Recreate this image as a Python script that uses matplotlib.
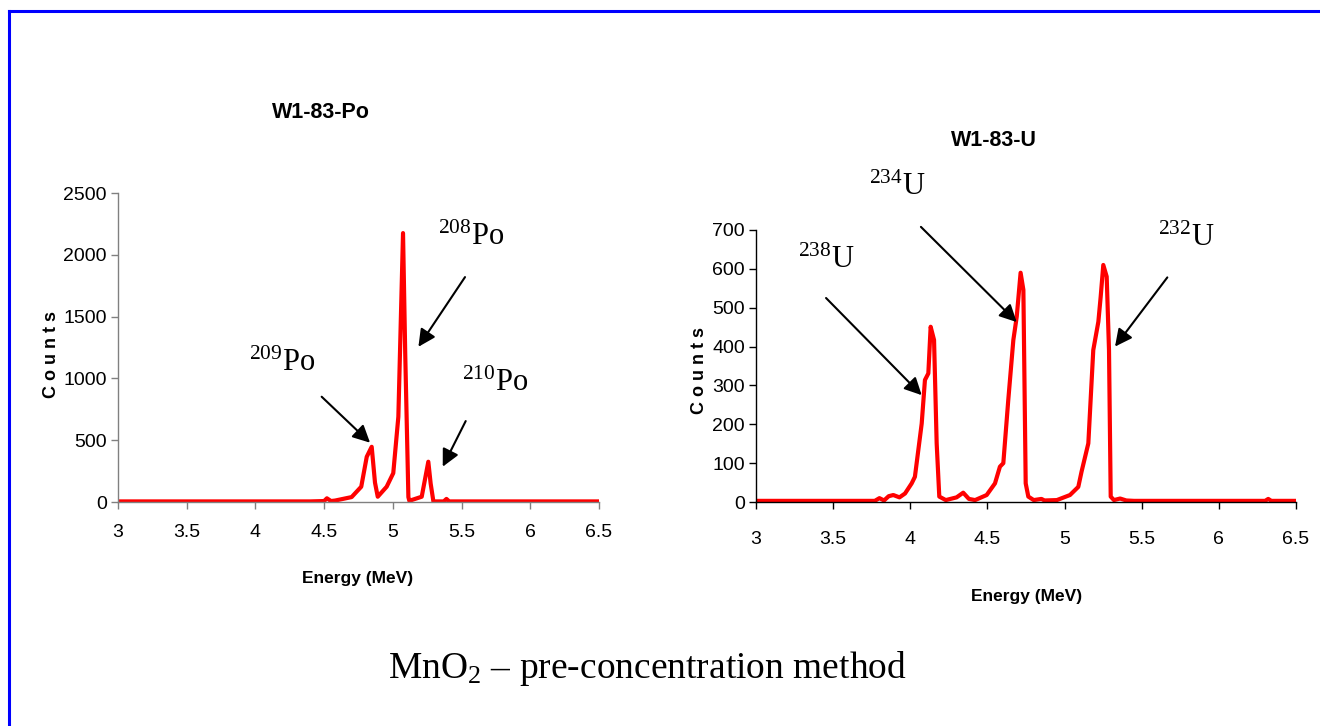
import numpy as np
import matplotlib
matplotlib.use('Agg')
import matplotlib.pyplot as plt
from matplotlib.lines import Line2D

plt.rcParams['font.family'] = ['Liberation Sans', 'DejaVu Sans']
plt.rcParams['mathtext.fontset'] = 'custom'
plt.rcParams['mathtext.rm'] = 'Liberation Serif'
plt.rcParams['mathtext.it'] = 'Liberation Serif:italic'

# W1-83-Po spectrum (energy in MeV, counts)
po_energy = [3.0, 4.40, 4.50, 4.52, 4.55, 4.58, 4.70, 4.77, 4.81, 4.846, 4.87, 4.89,
             4.955, 5.003, 5.04, 5.074, 5.09, 5.113, 5.12, 5.21, 5.258, 5.275, 5.295,
             5.37, 5.39, 5.41, 6.5]
po_counts = [5, 5, 8, 30, 8, 12, 40, 124, 366, 447, 157, 43,
             124, 234, 690, 2176, 1200, 40, 10, 43, 326, 150, 5,
             5, 25, 5, 5]

# W1-83-U spectrum
u_energy = [3.0, 3.77, 3.80, 3.83, 3.86, 3.89, 3.93, 3.966, 4.009, 4.03, 4.074, 4.095,
            4.117, 4.132, 4.154, 4.171, 4.188, 4.23, 4.30, 4.343, 4.38, 4.42, 4.495,
            4.549, 4.581, 4.603, 4.635, 4.668, 4.69, 4.715, 4.733, 4.748, 4.765, 4.80,
            4.85, 4.87, 4.95, 5.035, 5.089, 5.11, 5.154, 5.186, 5.219, 5.234, 5.251,
            5.273, 5.288, 5.299, 5.32, 5.36, 5.40, 5.45, 6.30, 6.32, 6.34, 6.5]
u_counts = [3, 3, 10, 4, 15, 18, 12, 22, 48, 65, 202, 314,
            331, 451, 417, 151, 14, 5, 12, 24, 8, 5, 18,
            48, 91, 100, 262, 417, 477, 590, 546, 48, 14, 5,
            8, 4, 5, 18, 39, 78, 151, 391, 464, 528, 610,
            580, 391, 14, 5, 9, 4, 3, 3, 8, 3, 3]

xticks = [3, 3.5, 4, 4.5, 5, 5.5, 6, 6.5]
xtick_labels = ['3', '3.5', '4', '4.5', '5', '5.5', '6', '6.5']
po_yticks = [0, 500, 1000, 1500, 2000, 2500]
u_yticks = [0, 100, 200, 300, 400, 500, 600, 700]

# peak labels: (mass number, symbol, label x, label y, arrow tail, arrow head) in data units
po_labels = [('209', 'Po', 3.95, 1060, (4.482, 852), (4.834, 480)),
             ('208', 'Po', 5.33, 2079, (5.525, 1820), (5.186, 1256)),
             ('210', 'Po', 5.50, 900, (5.53, 655), (5.363, 286))]
u_labels = [('238', 'U', 3.27, 602, (3.454, 525), (4.074, 275)),
            ('234', 'U', 3.73, 790, (4.069, 708), (4.69, 463)),
            ('232', 'U', 5.605, 660, (5.666, 578), (5.327, 400))]

fig = plt.figure(figsize=(13.2, 7.26), dpi=100)

# blue frame (top and left edges)
fig.add_artist(Line2D([8.5 / 1320, 8.5 / 1320], [-0.05, 1 - 10.5 / 726],
                      color='#0000ff', lw=2.2, transform=fig.transFigure))
fig.add_artist(Line2D([8.5 / 1320, 1.05], [1 - 10.5 / 726, 1 - 10.5 / 726],
                      color='#0000ff', lw=2.2, transform=fig.transFigure))

ax1 = fig.add_axes([118 / 1320, 0.3085, 481 / 1320, 0.4256])
ax2 = fig.add_axes([756 / 1320, 0.3085, 540 / 1320, 0.3747])


def style_axes(ax, yticks, ylim, spine_color, xpad):
    for s in ['top', 'right']:
        ax.spines[s].set_visible(False)
    for s in ['left', 'bottom']:
        ax.spines[s].set_color(spine_color)
        ax.spines[s].set_linewidth(1.0)
    ax.set_xlim(3, 6.5)
    ax.set_ylim(*ylim)
    ax.set_xticks(xticks)
    ax.set_xticklabels(xtick_labels)
    ax.set_yticks(yticks)
    ax.tick_params(axis='both', direction='out', length=5, width=1,
                   color=spine_color, labelsize=14)
    ax.tick_params(axis='x', pad=11)
    ax.tick_params(axis='x', pad=xpad)
    ax.tick_params(axis='y', pad=3)


ax1.plot(po_energy, po_counts, color='#ff0000', lw=3)
style_axes(ax1, po_yticks, (0, 2500), '#808080', 11)
ax2.plot(u_energy, u_counts, color='#ff0000', lw=3)
style_axes(ax2, u_yticks, (0, 700), 'black', 16)

fig.text(321 / 1320, 1 - 112 / 726, 'W1-83-Po', fontsize=15.5, fontweight='bold',
         ha='center', va='center')
fig.text(994 / 1320, 1 - 140 / 726, 'W1-83-U', fontsize=15.5, fontweight='bold',
         ha='center', va='center')

fig.text(52 / 1320, 1 - 355 / 726, 'C o u n t s', fontsize=13, fontweight='bold',
         rotation=90, ha='center', va='center')
fig.text(699 / 1320, 1 - 370 / 726, 'C o u n t s', fontsize=13, fontweight='bold',
         rotation=90, ha='center', va='center')
fig.text(358 / 1320, 1 - 578 / 726, 'Energy (MeV)', fontsize=12.5, fontweight='bold',
         ha='center', va='center')
fig.text(1027 / 1320, 1 - 597 / 726, 'Energy (MeV)', fontsize=12.5, fontweight='bold',
         ha='center', va='center')


def annotate(ax, labels):
    for sup, sym, lx, ly, tail, head in labels:
        ax.text(lx, ly, r'$^{\mathrm{%s}}\mathrm{%s}$' % (sup, sym), fontsize=22,
                ha='left', va='baseline')
        ax.annotate('', xy=head, xytext=tail,
                    arrowprops=dict(arrowstyle='-|>', color='black', lw=1.5,
                                    mutation_scale=26, shrinkA=0, shrinkB=0))


annotate(ax1, po_labels)
annotate(ax2, u_labels)

fig.text(647 / 1320, 1 - 668 / 726, r'MnO$_2$ – pre-concentration method',
         fontsize=27, family='Liberation Serif', ha='center', va='center')

fig.savefig('out.png', dpi=100)
